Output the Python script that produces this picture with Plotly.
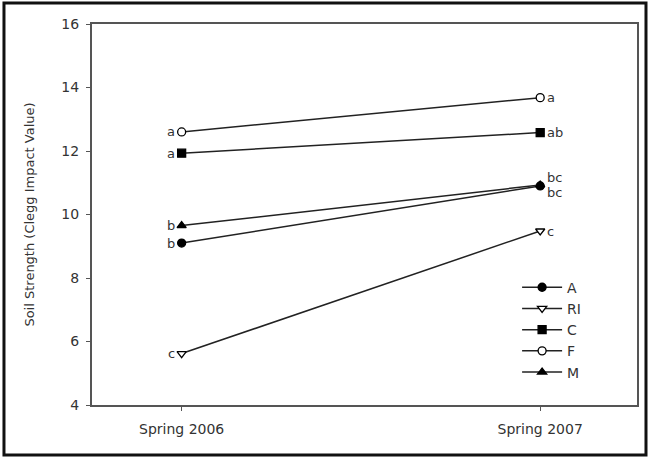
import plotly.graph_objects as go

seasons = ["Spring 2006", "Spring 2007"]
series_names = ["A", "RI", "C", "F", "M"]
values_A = [9.1, 10.9]
values_RI = [5.62, 9.48]
values_C = [11.93, 12.58]
values_F = [12.6, 13.68]
values_M = [9.65, 10.93]
letters_A = ["b", "bc"]
letters_RI = ["c", "c"]
letters_C = ["a", "ab"]
letters_F = ["a", "a"]
letters_M = ["b", "bc"]

styles = {
    "A": dict(symbol="circle", fill="black"),
    "RI": dict(symbol="triangle-down", fill="white"),
    "C": dict(symbol="square", fill="black"),
    "F": dict(symbol="circle", fill="white"),
    "M": dict(symbol="triangle-up", fill="black"),
}
data = {"A": values_A, "RI": values_RI, "C": values_C, "F": values_F, "M": values_M}
letters = {"A": letters_A, "RI": letters_RI, "C": letters_C, "F": letters_F, "M": letters_M}
# vertical nudge of the right-hand letters where two labels overlap
label_yshift = {"A": -7, "M": 7}

FONT = "DejaVu Sans, Liberation Sans, Arial"
TXT = "#333"

xidx = [0, 1]
fig = go.Figure()
for name in series_names:
    st = styles[name]
    fig.add_trace(go.Scatter(
        x=xidx, y=data[name], name=name,
        mode="lines+markers",
        line=dict(color="#222", width=1.5),
        marker=dict(symbol=st["symbol"], size=8, color=st["fill"],
                    line=dict(color="black", width=1.3)),
    ))
    for i, (xv, yv, lt) in enumerate(zip(xidx, data[name], letters[name])):
        fig.add_annotation(
            x=xv, y=yv, text=lt, showarrow=False,
            xanchor="right" if i == 0 else "left",
            xshift=-5 if i == 0 else 5,
            yshift=label_yshift.get(name, 0) if i == 1 else 0,
            font=dict(family=FONT, size=13, color=TXT),
        )

# outer frame of the figure
fig.add_shape(type="rect", xref="paper", yref="paper",
              x0=-0.1615, x1=1.0165, y0=-0.131, y1=1.055,
              line=dict(color="#111", width=3), layer="below")

fig.update_layout(
    width=650, height=458,
    margin=dict(l=92, r=13, t=24, b=53),
    paper_bgcolor="white", plot_bgcolor="white",
    font=dict(family=FONT, size=13, color=TXT),
    showlegend=True,
    legend=dict(x=0.78, y=0.35, xanchor="left", yanchor="top",
                bgcolor="rgba(0,0,0,0)", font=dict(size=14, color=TXT),
                tracegroupgap=0, itemwidth=40),
    xaxis=dict(range=[-0.25, 1.27], tickvals=xidx, ticktext=seasons,
               showgrid=False, zeroline=False, showline=True, mirror=True,
               linecolor="#555", linewidth=2, ticks="outside", ticklen=4,
               tickcolor="#555", ticklabelstandoff=6,
               tickfont=dict(size=14, color=TXT)),
    yaxis=dict(range=[4, 16], tickvals=[4, 6, 8, 10, 12, 14, 16],
               showgrid=False, zeroline=False, showline=True, mirror=True,
               linecolor="#555", linewidth=2, ticks="outside", ticklen=4,
               tickcolor="#555", ticklabelstandoff=4,
               tickfont=dict(size=14, color=TXT),
               title=dict(text="Soil Strength (Clegg Impact Value)",
                          font=dict(size=13, color=TXT), standoff=24)),
)

fig.write_html("out.html", config={"displayModeBar": False},
               post_script="document.body.style.margin='0';")
